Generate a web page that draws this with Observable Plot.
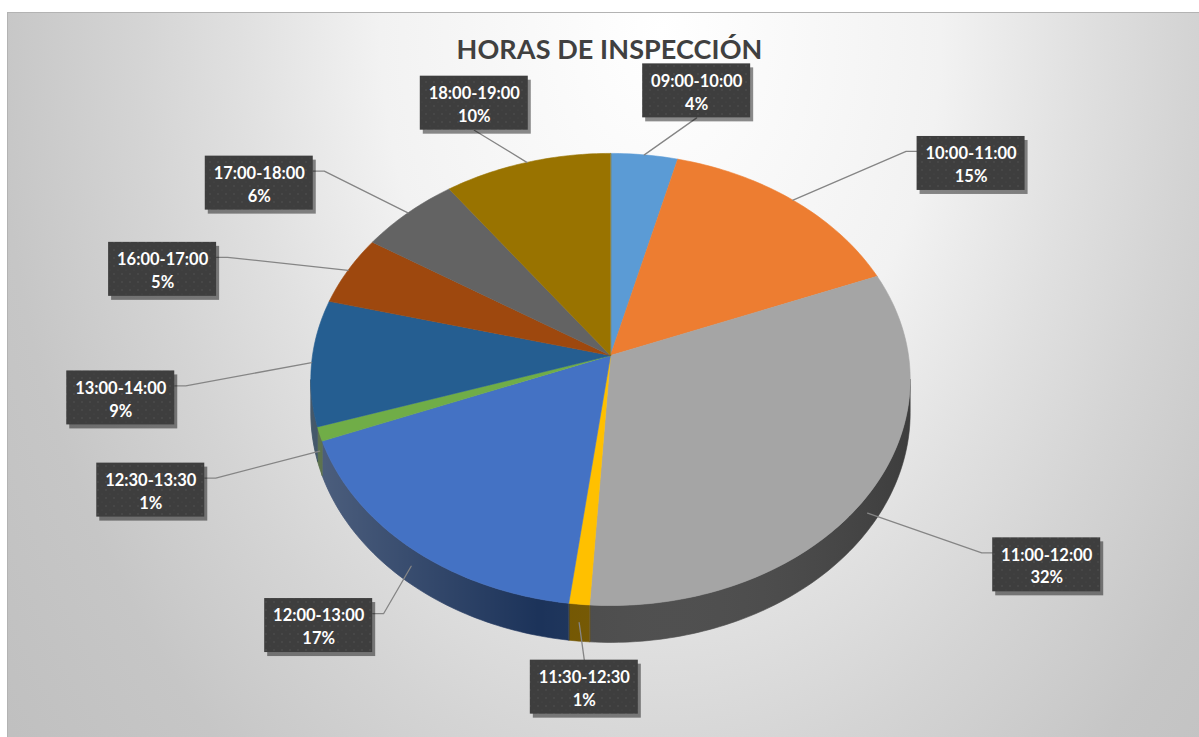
<!DOCTYPE html>
<html>
<head>
<meta charset="utf-8">
<script src="https://cdn.jsdelivr.net/npm/d3@7"></script>
<script src="https://cdn.jsdelivr.net/npm/@observablehq/plot@0.6"></script>
<style>
  html, body { margin: 0; padding: 0; background: #ffffff; }
  #wrap { position: relative; width: 1199px; height: 737px; overflow: hidden; }
  #area {
    position: absolute; left: 7px; top: 12px; width: 1192px; height: 724px;
    border-top: 1px solid #b3b3b3; border-left: 1px solid #b3b3b3;
    background: radial-gradient(ellipse 700px 1000px at 653px 18px,
      #ffffff 0%, #f2f2f2 40%, #e0e0e0 60%, #d4d4d4 75%, #c6c6c6 95%, #bfbfbf 120%);
  }
  #chart { position: absolute; left: 0; top: 0; }
  #title {
    position: absolute; left: 0; top: 32px; width: 1219px; text-align: center;
    font-family: Lato, "Open Sans", sans-serif; font-weight: 700; font-size: 27px;
    line-height: 34px; color: #404040; letter-spacing: 0.1px;
  }
</style>
</head>
<body>
<div id="wrap">
  <div id="area"></div>
  <div id="chart"></div>
  <div id="title"></div>
</div>
<script>
// ---------------- data ----------------
const chartTitle = "HORAS DE INSPECCIÓN";
const categories = ["09:00-10:00", "10:00-11:00", "11:00-12:00", "11:30-12:30", "12:00-13:00",
                    "12:30-13:30", "13:00-14:00", "16:00-17:00", "17:00-18:00", "18:00-19:00"];
const shares = [4, 15, 32, 1, 17, 1, 9, 5, 6, 10];
const colors = ["#5B9BD5", "#ED7D31", "#A5A5A5", "#FFC000", "#4472C4",
                "#70AD47", "#255E91", "#9E480E", "#636363", "#997300"];

// ---------------- layout ----------------
const W = 1199, H = 737;
const pie = {cx: 610, cy: 355, rx: 298, ry: 223.5, k: 0.106, depth: 33};
const lab = {cx: 632, cy: 388, a: 512, b: 300, w: 108, h: 54};

document.getElementById("title").textContent = chartTitle;

// perspective projection of a point on the pie (theta clockwise from top, r radius, z depth 0..1)
function proj(theta, r, z) {
  const u = r * Math.sin(theta), v = -r * Math.cos(theta);
  const s = 1 / (1 - pie.k * v);
  return [pie.cx + pie.rx * u * s, pie.cy + pie.ry * v * s + pie.depth * z * s];
}
function arc(a0, a1, z, r = 1) {
  const n = Math.max(2, Math.ceil((a1 - a0) / (Math.PI / 180)));
  return d3.range(n + 1).map(j => proj(a0 + (a1 - a0) * j / n, r, z));
}

const total = d3.sum(shares);
let acc = 0;
const slices = categories.map((c, i) => {
  const a0 = acc / total * 2 * Math.PI;
  acc += shares[i];
  const a1 = acc / total * 2 * Math.PI;
  return {c, v: shares[i], pct: Math.round(shares[i] / total * 100), color: colors[i], a0, a1, mid: (a0 + a1) / 2, i};
});

// top faces
const topPts = slices.flatMap(s =>
  [proj(0, 0, 0), ...arc(s.a0, s.a1, 0)].map(([x, y]) => ({x, y, key: s.i, color: s.color})));

// visible outer walls (shaded version of the slice colour)
const vis0 = Math.acos(-pie.k), vis1 = 2 * Math.PI - vis0;
const wallPts = slices.flatMap(s => {
  const b0 = Math.max(s.a0, vis0), b1 = Math.min(s.a1, vis1);
  if (b1 <= b0) return [];
  const h = d3.hsl(s.color); h.l *= 0.45;
  const col = h.formatHex();
  return [...arc(b0, b1, 0), ...arc(b0, b1, 1).reverse()].map(([x, y]) => ({x, y, key: s.i, color: col}));
});

// soft shadow under the pie
const shadowPts = arc(0, 2 * Math.PI, 1, 1.01).map(([x, y]) => ({x, y: y + 8}));

// labels
const labels = slices.map(s => {
  const lx = lab.cx + lab.a * Math.sin(s.mid);
  const ly = lab.cy - lab.b * Math.cos(s.mid);
  const inFront = s.mid > vis0 && s.mid < vis1;
  const [ex, ey] = proj(s.mid, 1, inFront ? 0.5 : 0);
  const dx = lx - ex;
  let pts;
  if (Math.abs(dx) < 70) {
    const ay = ly < ey ? ly + lab.h / 2 : ly - lab.h / 2;
    pts = [[lx, ay], [ex, ey]];
  } else {
    const side = dx > 0 ? lx - lab.w / 2 : lx + lab.w / 2;
    const elbow = side + (dx > 0 ? -11 : 11);
    pts = [[side, ly - 12], [elbow, ly - 12], [ex, ey]];
  }
  return {...s, lx, ly, pts};
});
const leaderPts = labels.flatMap(l => l.pts.map(([x, y]) => ({x, y, key: l.i})));

const plot = Plot.plot({
  width: W, height: H, margin: 0,
  x: {domain: [0, W], range: [0, W], axis: null},
  y: {domain: [0, H], range: [0, H], axis: null},
  color: {type: "identity"},
  style: {background: "transparent", overflow: "visible"},
  marks: [
    Plot.line(shadowPts, {x: "x", y: "y", fill: "#000", fillOpacity: 0.28, stroke: "none", curve: "linear-closed", ariaLabel: "pie-shadow"}),
    Plot.line(wallPts, {x: "x", y: "y", z: "key", fill: "color", stroke: "color", strokeWidth: 0.6, curve: "linear-closed"}),
    Plot.line(wallPts, {x: "x", y: "y", z: "key", fill: "url(#wallShade)", stroke: "none", curve: "linear-closed"}),
    Plot.line(topPts, {x: "x", y: "y", z: "key", fill: "color", stroke: "color", strokeWidth: 0.6, curve: "linear-closed"}),
    Plot.line(leaderPts, {x: "x", y: "y", z: "key", stroke: "#858585", strokeWidth: 1.3}),
    Plot.rect(labels, {x1: d => d.lx - lab.w / 2 + 3, x2: d => d.lx + lab.w / 2 + 3, y1: d => d.ly - lab.h / 2 + 4, y2: d => d.ly + lab.h / 2 + 4,
      fill: "#000", fillOpacity: 0.45, ariaLabel: "box-shadow"}),
    Plot.rect(labels, {x1: d => d.lx - lab.w / 2, x2: d => d.lx + lab.w / 2, y1: d => d.ly - lab.h / 2, y2: d => d.ly + lab.h / 2,
      fill: "url(#dots)"}),
    Plot.text(labels, {x: "lx", y: "ly", text: d => `${d.c}\n${d.pct}%`, fill: "white", fontSize: 16.5, fontWeight: "bold",
      fontFamily: "Lato, 'Open Sans', sans-serif", lineHeight: 1.38, lineAnchor: "middle", textAnchor: "middle"})
  ]
});

plot.insertAdjacentHTML("afterbegin", `
<defs>
  <pattern id="dots" width="8" height="8" patternUnits="userSpaceOnUse">
    <rect width="8" height="8" fill="#3e3e3e"></rect>
    <circle cx="2" cy="2" r="0.8" fill="#525252"></circle>
    <circle cx="6" cy="6" r="0.6" fill="#484848"></circle>
  </pattern>
  <linearGradient id="wallShade" gradientUnits="userSpaceOnUse" x1="310" y1="0" x2="910" y2="0">
    <stop offset="0" stop-color="#ffffff" stop-opacity="0.22"></stop>
    <stop offset="0.38" stop-color="#ffffff" stop-opacity="0"></stop>
    <stop offset="1" stop-color="#000000" stop-opacity="0.18"></stop>
  </linearGradient>
  <filter id="blurBig" x="-20%" y="-20%" width="140%" height="140%"><feGaussianBlur stdDeviation="9"></feGaussianBlur></filter>
  <filter id="blurSmall" x="-20%" y="-20%" width="140%" height="140%"><feGaussianBlur stdDeviation="2"></feGaussianBlur></filter>
</defs>`);
const sh = plot.querySelector('g[aria-label="pie-shadow"]');
if (sh) sh.setAttribute("filter", "url(#blurBig)");
const bs = plot.querySelector('g[aria-label="box-shadow"]');
if (bs) bs.setAttribute("filter", "url(#blurSmall)");

document.getElementById("chart").appendChild(plot);
</script>
</body>
</html>
